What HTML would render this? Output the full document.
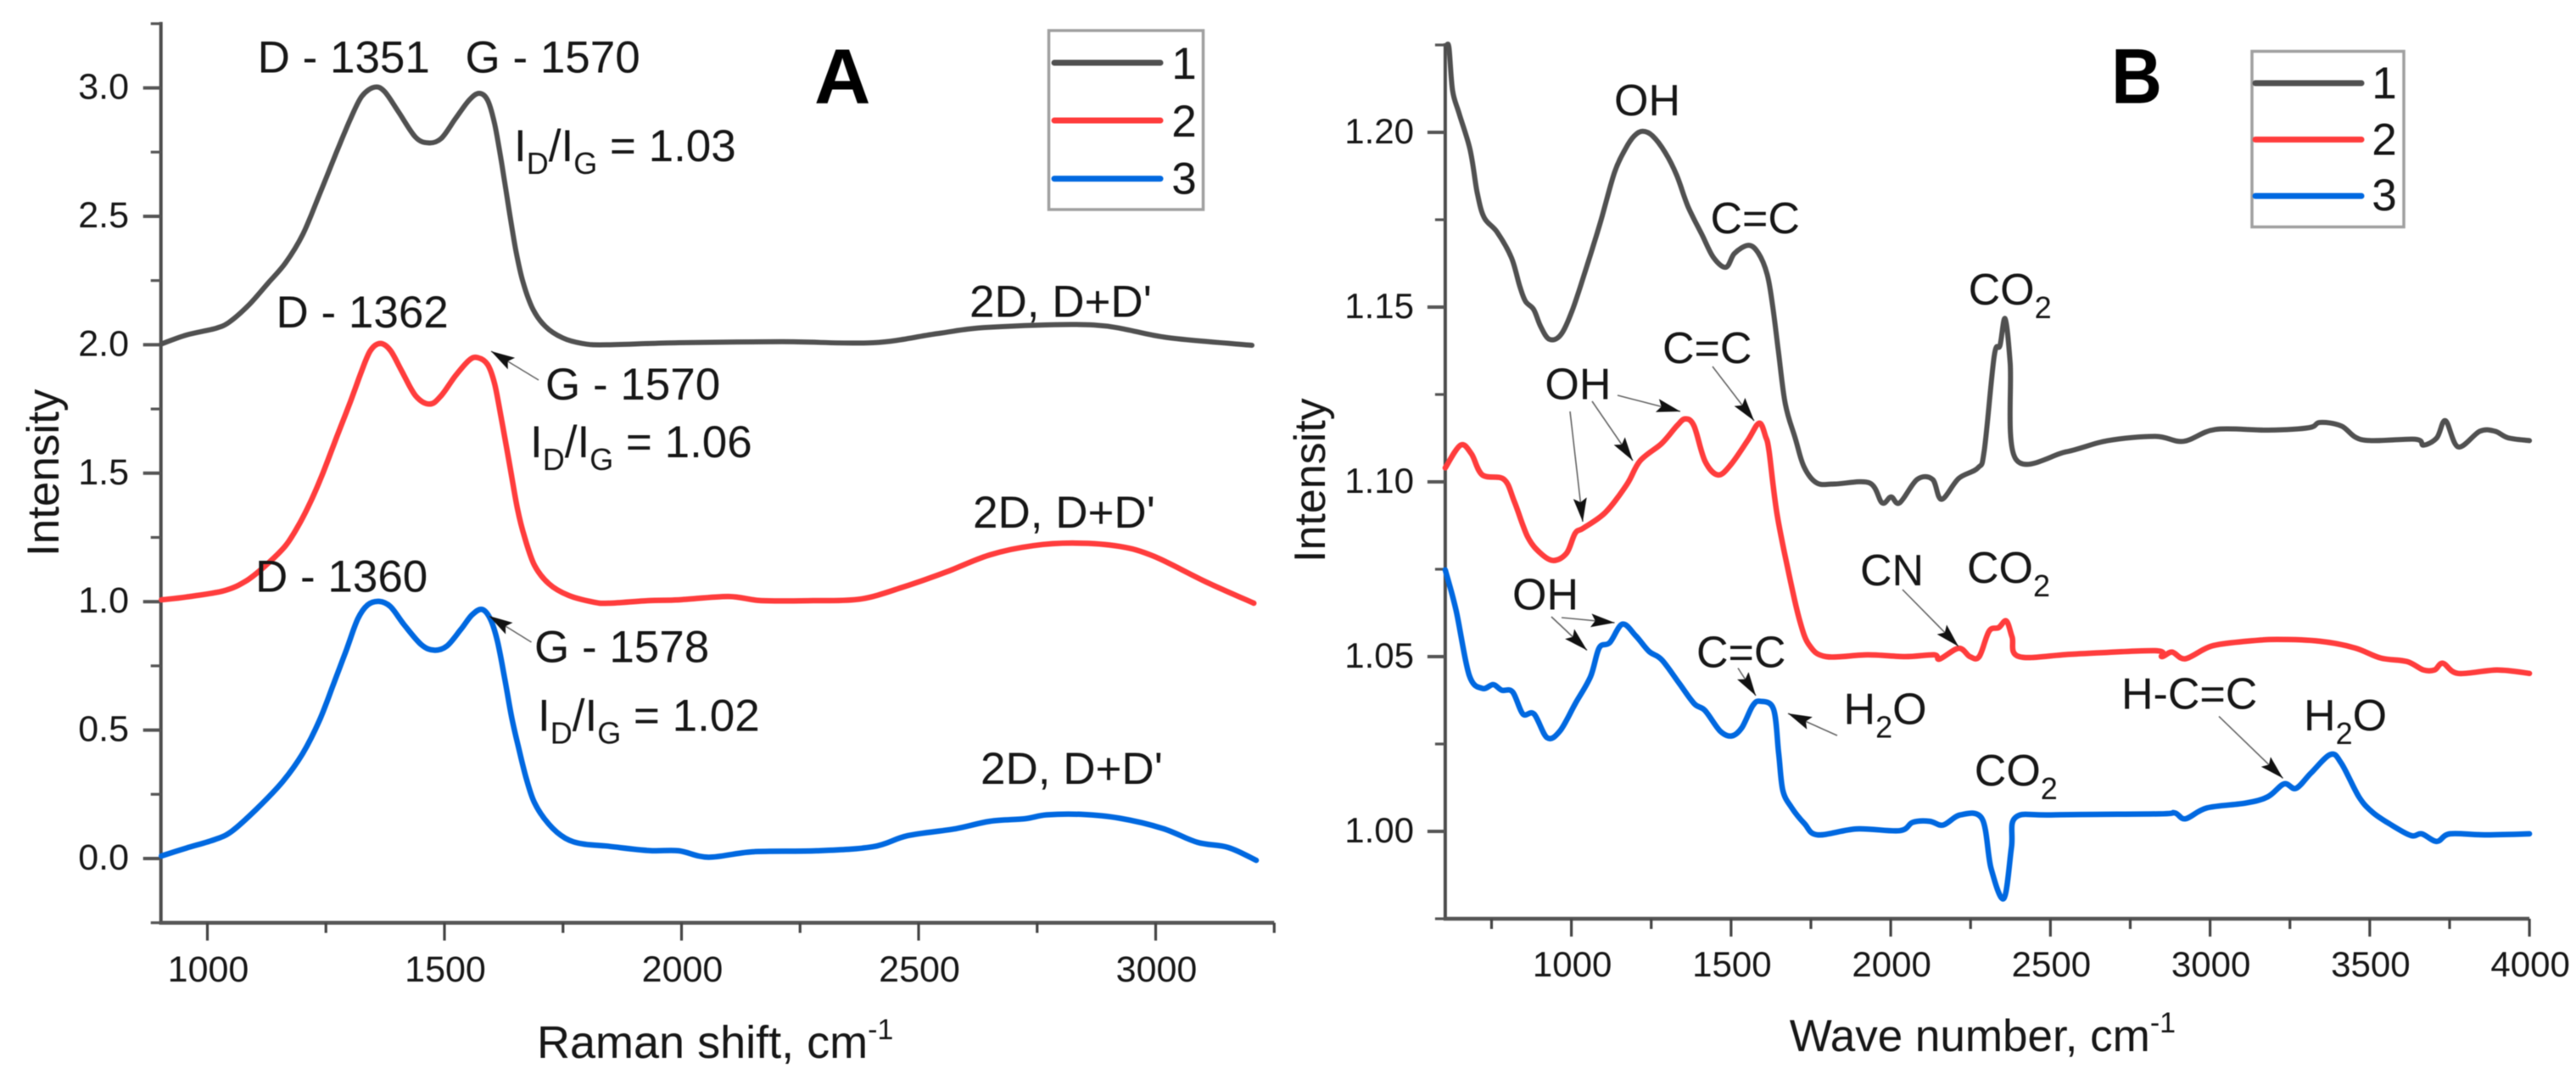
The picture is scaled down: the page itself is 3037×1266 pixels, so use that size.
<!DOCTYPE html>
<html lang="en">
<head>
<meta charset="utf-8">
<title>Raman and IR spectra</title>
<style>
html,body{margin:0;padding:0;background:#fff;width:3037px;height:1266px;overflow:hidden}
svg{display:block;filter:blur(0.6px)}
text{font-family:"Liberation Sans",sans-serif;fill:#161616}
.an{font-size:53px}
.bn{font-size:52px}
</style>
</head>
<body>
<svg id="chart" xmlns="http://www.w3.org/2000/svg" width="3037" height="1266" viewBox="0 0 3037 1266">
<defs>
<marker id="head" markerUnits="userSpaceOnUse" markerWidth="30" markerHeight="18" refX="28" refY="8" orient="auto">
<path d="M0 0 L28 8 L0 16 L5 8 Z" fill="#111"/>
</marker>
</defs>
<rect width="3037" height="1266" fill="#fff"/>

<g id="panelA"></g>
<g id="panelB"></g>

<!-- Panel A static text -->
<text x="960" y="121.6" font-size="92" font-weight="700" style="fill:#000">A</text>
<text x="69" y="656" font-size="53" transform="rotate(-90 69 656)">Intensity</text>
<text x="633" y="1247" font-size="54">Raman shift, cm<tspan font-size="34" dy="-22">-1</tspan></text>

<text class="an" x="303.6" y="85.7">D - 1351</text>
<text class="an" x="548.5" y="85.7">G - 1570</text>
<text class="an" x="606" y="190">I<tspan font-size="36" dy="15">D</tspan><tspan dy="-15">/I</tspan><tspan font-size="36" dy="15">G</tspan><tspan dy="-15"> = 1.03</tspan></text>
<text class="an" x="325.5" y="386.2">D - 1362</text>
<text class="an" x="643" y="471">G - 1570</text>
<text class="an" x="625" y="538.8">I<tspan font-size="36" dy="15">D</tspan><tspan dy="-15">/I</tspan><tspan font-size="36" dy="15">G</tspan><tspan dy="-15"> = 1.06</tspan></text>
<text class="an" x="301" y="697.5">D - 1360</text>
<text class="an" x="630" y="780.5">G - 1578</text>
<text class="an" x="634" y="861.6">I<tspan font-size="36" dy="15">D</tspan><tspan dy="-15">/I</tspan><tspan font-size="36" dy="15">G</tspan><tspan dy="-15"> = 1.02</tspan></text>
<text class="an" x="1143" y="373.5" font-size="54">2D, D+D'</text>
<text class="an" x="1147" y="622">2D, D+D'</text>
<text class="an" x="1156" y="924">2D, D+D'</text>

<g stroke="#666" stroke-width="1.6" fill="none">
<line x1="635" y1="448" x2="579" y2="414" marker-end="url(#head)"/>
<line x1="626.5" y1="757" x2="576.5" y2="726" marker-end="url(#head)"/>
</g>

<!-- Panel A legend -->
<g>
<rect x="1236.5" y="36" width="182" height="211" fill="none" stroke="#a0a0a0" stroke-width="3.5"/>
<line x1="1243" y1="74" x2="1368" y2="74" stroke="#505050" stroke-width="7" stroke-linecap="round"/>
<line x1="1243" y1="142" x2="1368" y2="142" stroke="#ff3c3c" stroke-width="7" stroke-linecap="round"/>
<line x1="1243" y1="210.6" x2="1368" y2="210.6" stroke="#0068e0" stroke-width="7" stroke-linecap="round"/>
<text x="1396" y="93" font-size="53" text-anchor="middle">1</text>
<text x="1396" y="161" font-size="53" text-anchor="middle">2</text>
<text x="1396" y="228.6" font-size="53" text-anchor="middle">3</text>
</g>

<!-- Panel B static text -->
<text x="2489" y="121.6" font-size="92" font-weight="700" textLength="60" lengthAdjust="spacingAndGlyphs" style="fill:#000">B</text>
<text x="1562" y="663" font-size="52" transform="rotate(-90 1562 663)">Intensity</text>
<text x="2109.7" y="1239" font-size="53">Wave number, cm<tspan font-size="34" dy="-22">-1</tspan></text>

<text class="bn" x="1903" y="136">OH</text>
<text class="bn" x="2016.5" y="275">C=C</text>
<text class="bn" x="1960" y="428">C=C</text>
<text class="bn" x="1821.4" y="470.7">OH</text>
<text class="bn" x="1783" y="718.6">OH</text>
<text class="bn" x="2000" y="786.5">C=C</text>
<text class="bn" x="2173.5" y="853.6">H<tspan font-size="36" dy="16">2</tspan><tspan dy="-16">O</tspan></text>
<text class="bn" x="2193" y="690">CN</text>
<text class="bn" x="2320.6" y="359">CO<tspan font-size="36" dy="16">2</tspan></text>
<text class="bn" x="2319" y="687">CO<tspan font-size="36" dy="16">2</tspan></text>
<text class="bn" x="2327.8" y="926">CO<tspan font-size="36" dy="16">2</tspan></text>
<text class="bn" x="2501" y="835.6">H-C=C</text>
<text class="bn" x="2716" y="860.8">H<tspan font-size="36" dy="16">2</tspan><tspan dy="-16">O</tspan></text>

<g stroke="#666" stroke-width="1.6" fill="none">
<line x1="1907" y1="466" x2="1981" y2="485" marker-end="url(#head)"/>
<line x1="1877" y1="473" x2="1925" y2="543" marker-end="url(#head)"/>
<line x1="1851" y1="485" x2="1866" y2="615" marker-end="url(#head)"/>
<line x1="2019" y1="432" x2="2068" y2="496" marker-end="url(#head)"/>
<line x1="2243" y1="695" x2="2309" y2="762" marker-end="url(#head)"/>
<line x1="2166" y1="867" x2="2108" y2="841" marker-end="url(#head)"/>
<line x1="2049" y1="787.5" x2="2070" y2="820" marker-end="url(#head)"/>
<line x1="1841" y1="728" x2="1903.6" y2="734" marker-end="url(#head)"/>
<line x1="1829" y1="727" x2="1871" y2="766.5" marker-end="url(#head)"/>
<line x1="2616" y1="844.4" x2="2691.5" y2="917.4" marker-end="url(#head)"/>
</g>

<!-- Panel B legend -->
<g>
<rect x="2655" y="60.5" width="179" height="207" fill="none" stroke="#a0a0a0" stroke-width="3.5"/>
<line x1="2659" y1="98" x2="2784" y2="98" stroke="#505050" stroke-width="7" stroke-linecap="round"/>
<line x1="2659" y1="164.5" x2="2784" y2="164.5" stroke="#ff3c3c" stroke-width="7" stroke-linecap="round"/>
<line x1="2659" y1="231" x2="2784" y2="231" stroke="#0068e0" stroke-width="7" stroke-linecap="round"/>
<text x="2811" y="116" font-size="53" text-anchor="middle">1</text>
<text x="2811" y="182.4" font-size="53" text-anchor="middle">2</text>
<text x="2811" y="247.8" font-size="53" text-anchor="middle">3</text>
</g>
</svg>

<script>
// ---- Panel A data (Raman shift, intensity) ----
const ramanX1 = [903,956,1016,1046,1087,1129,1165,1201,1236,1272,1302,1326,1353,1374,1403,1439,1466,1493,1523,1552,1573,1591,1606,1621,1636,1651,1666,1687,1713,1749,1791,1840,1994,2212,2404,2541,2650,2870,3024,3203];
const ramanY1 = [2.003,2.038,2.063,2.088,2.154,2.242,2.319,2.429,2.583,2.748,2.88,2.968,3.003,2.985,2.907,2.808,2.786,2.803,2.88,2.952,2.979,2.952,2.858,2.704,2.528,2.363,2.242,2.137,2.071,2.027,2.005,2.0,2.008,2.012,2.008,2.044,2.068,2.077,2.028,1.998];
const ramanX2 = [903,956,1034,1081,1123,1165,1195,1219,1242,1272,1302,1326,1344,1365,1386,1409,1439,1469,1493,1523,1552,1570,1591,1606,1621,1636,1654,1669,1690,1720,1761,1815,1849,1931,1994,2099,2168,2277,2377,2468,2559,2650,2742,2833,2924,2997,3106,3207];
const ramanY2 = [1.007,1.018,1.042,1.08,1.141,1.218,1.306,1.394,1.493,1.637,1.78,1.901,1.978,2.005,1.978,1.901,1.802,1.769,1.802,1.879,1.94,1.95,1.923,1.846,1.703,1.549,1.361,1.251,1.141,1.07,1.025,0.998,0.994,1.004,1.007,1.02,1.004,1.004,1.01,1.057,1.116,1.182,1.218,1.228,1.215,1.176,1.077,0.994];
const ramanX3 = [903,956,1016,1052,1105,1159,1201,1236,1266,1293,1317,1338,1362,1386,1415,1451,1478,1505,1535,1558,1579,1597,1612,1627,1642,1657,1672,1690,1720,1755,1791,1840,1931,1994,2057,2149,2285,2404,2477,2578,2650,2724,2770,2843,2924,3015,3088,3153,3212];
const ramanY3 = [0.01,0.041,0.074,0.107,0.195,0.3,0.409,0.536,0.679,0.811,0.932,0.987,1.001,0.981,0.91,0.833,0.811,0.827,0.893,0.948,0.97,0.932,0.844,0.701,0.547,0.426,0.316,0.217,0.134,0.079,0.057,0.049,0.031,0.03,0.005,0.026,0.03,0.046,0.089,0.116,0.145,0.155,0.17,0.172,0.157,0.117,0.063,0.043,-0.007];
const ramanXMajor = [1000,1500,2000,2500,3000];
const ramanXMinor = [1250,1750,2250,2750,3250];
const ramanYMajor = [0,0.5,1,1.5,2,2.5,3];
const ramanYMinor = [-0.25,0.25,0.75,1.25,1.75,2.25,2.75,3.25];
const ramanYLabels = ['0.0','0.5','1.0','1.5','2.0','2.5','3.0'];

// ---- Panel B data (wave number, intensity) ----
const irX1 = [610,617,628,648,683,705,727,767,812,838,856,882,904,931,966,1002,1046,1090,1135,1170,1197,1223,1254,1294,1330,1365,1409,1445,1484,1511,1555,1586,1613,1630,1648,1670,1701,1728,1768,1825,1933,1973,2001,2028,2083,2131,2159,2213,2273,2293,2324,2342,2358,2374,2391,2549,2679,2829,2917,3017,3181,3310,3344,3411,3479,3642,3668,3710,3737,3777,3845,3892,3933,4000];
const irY1 = [1.225,1.224,1.212,1.2055,1.195,1.1828,1.1756,1.1715,1.1642,1.1561,1.1517,1.1493,1.1444,1.1408,1.142,1.1489,1.161,1.174,1.1885,1.1954,1.199,1.2003,1.199,1.1942,1.1877,1.1788,1.1707,1.1642,1.1614,1.1654,1.1677,1.1654,1.1594,1.1505,1.1375,1.1222,1.1125,1.1044,1.0997,1.0994,1.0997,1.094,1.0957,1.094,1.1007,1.1007,1.095,1.101,1.104,1.109,1.136,1.139,1.1467,1.134,1.1066,1.1086,1.1118,1.113,1.1116,1.115,1.1148,1.1155,1.117,1.116,1.112,1.1122,1.1105,1.1126,1.1175,1.11,1.1145,1.1145,1.1126,1.1118];
const irX2 = [605,653,687,721,789,822,863,903,944,985,1012,1038,1107,1174,1215,1283,1330,1357,1384,1418,1459,1500,1553,1588,1608,1619,1643,1678,1713,1744,1797,1928,2045,2136,2153,2213,2248,2277,2308,2338,2362,2380,2402,2570,2828,2849,2881,2923,3004,3113,3209,3344,3453,3534,3616,3668,3703,3729,3777,3899,4000];
const irY2 = [1.104,1.1105,1.108,1.102,1.1007,1.0942,1.0843,1.0796,1.0775,1.0796,1.0853,1.0868,1.0913,1.0993,1.106,1.111,1.116,1.118,1.116,1.106,1.102,1.105,1.112,1.1168,1.113,1.1087,1.0913,1.075,1.061,1.0534,1.05,1.0505,1.05,1.0505,1.0493,1.0524,1.05,1.05,1.0573,1.0583,1.0602,1.0556,1.05,1.0507,1.0517,1.05,1.0513,1.0494,1.053,1.0544,1.0549,1.0544,1.0525,1.0496,1.0486,1.0462,1.0462,1.0481,1.0452,1.0462,1.0452];
const irX3 = [605,639,680,721,755,782,816,848,883,924,964,1012,1060,1087,1120,1160,1202,1243,1283,1338,1385,1418,1466,1502,1534,1568,1592,1633,1649,1662,1689,1730,1771,1893,2028,2069,2122,2164,2218,2286,2314,2354,2378,2391,2502,2840,2889,2923,2990,3112,3181,3232,3269,3316,3377,3411,3466,3507,3561,3629,3663,3710,3751,3859,4000];
const irY3 = [1.0748,1.0632,1.0447,1.0409,1.042,1.0404,1.0399,1.0336,1.0336,1.0268,1.0287,1.0365,1.0443,1.0525,1.054,1.0593,1.0559,1.0515,1.0491,1.0423,1.0365,1.0346,1.0287,1.0273,1.0297,1.036,1.0372,1.035,1.0225,1.0118,1.0069,1.0022,0.999,1.0007,1.0002,1.0026,1.0029,1.0018,1.0047,1.0036,0.9895,0.9808,0.9954,1.004,1.0047,1.005,1.0053,1.0036,1.0067,1.0081,1.0099,1.0136,1.0123,1.0167,1.022,1.0195,1.0099,1.0056,1.0022,0.9988,0.9993,0.9971,0.9993,0.999,0.9993];
const irXMajor = [1000,1500,2000,2500,3000,3500,4000];
const irXMinor = [750,1250,1750,2250,2750,3250,3750];
const irYMajor = [1,1.05,1.1,1.15,1.2];
const irYMinor = [0.975,1.025,1.075,1.125,1.175,1.225];
const irYLabels = ['1.00','1.05','1.10','1.15','1.20'];

// ---- Axis functions ----
const xA = v => 244.5 + (v - 1000) * 0.559;
const yA = v => 1012 - 302.8 * v;
const xB = v => 1852.6 + (v - 1000) * 0.3765;
const yB = v => 980 - (v - 1) * 4120;

const NS = 'http://www.w3.org/2000/svg';
function make(tag, parent, attrs) {
  const el = document.createElementNS(NS, tag);
  for (const k in attrs) el.setAttribute(k, attrs[k]);
  parent.appendChild(el);
  return el;
}
function smoothPath(xs, ys, fx, fy) {
  const p = xs.map((x, i) => [fx(x), fy(ys[i])]);
  let d = 'M' + p[0][0].toFixed(1) + ' ' + p[0][1].toFixed(1);
  for (let i = 0; i < p.length - 1; i++) {
    const a = p[Math.max(i - 1, 0)], b = p[i], c = p[i + 1], e = p[Math.min(i + 2, p.length - 1)];
    const k = 1 / 6;
    d += ' C' + (b[0] + (c[0] - a[0]) * k).toFixed(1) + ' ' + (b[1] + (c[1] - a[1]) * k).toFixed(1) + ' ' +
      (c[0] - (e[0] - b[0]) * k).toFixed(1) + ' ' + (c[1] - (e[1] - b[1]) * k).toFixed(1) + ' ' +
      c[0].toFixed(1) + ' ' + c[1].toFixed(1);
  }
  return d;
}
function drawAxes(g, prefix, fx, fy, left, right, top, bottom, xMajor, xMinor, yMajor, yMinor, yLabels, xBase, yLabelRight, fs) {
  const yAxis = make('line', g, {x1: left, y1: top - 2, x2: left, y2: bottom + 2, stroke: '#4c4c4c', 'stroke-width': 4});
  
  
  const xAxis = make('line', g, {x1: left - 2, y1: bottom, x2: right, y2: bottom, stroke: '#555', 'stroke-width': 4.5});
  
  
  xMajor.forEach(v => {
    const t = make('line', g, {x1: fx(v), y1: bottom, x2: fx(v), y2: bottom + 21, stroke: '#444', 'stroke-width': 3.2});
    
    
    const l = make('text', g, {x: fx(v) + 1, y: xBase, 'font-size': fs, 'text-anchor': 'middle'});
    l.textContent = String(v);
    
    
  });
  xMinor.forEach(v => {
    const t = make('line', g, {x1: fx(v), y1: bottom, x2: fx(v), y2: bottom + 12, stroke: '#444', 'stroke-width': 3.2});
    
    
  });
  yMajor.forEach((v, i) => {
    const t = make('line', g, {x1: left - 21, y1: fy(v), x2: left, y2: fy(v), stroke: '#555', 'stroke-width': 4});
    
    
    const l = make('text', g, {x: yLabelRight, y: fy(v) + 13, 'font-size': fs, 'text-anchor': 'end'});
    l.textContent = yLabels[i];
    
    
  });
  yMinor.forEach(v => {
    const t = make('line', g, {x1: left - 12, y1: fy(v), x2: left, y2: fy(v), stroke: '#555', 'stroke-width': 3.2});
    
    
  });
}
function drawSeries(g, name, xs, ys, fx, fy, colour, width) {
  const p = make('path', g, {d: smoothPath(xs, ys, fx, fy), fill: 'none', stroke: colour, 'stroke-width': width, 'stroke-linejoin': 'round', 'stroke-linecap': 'round'});
  
  
}

const gA = document.getElementById('panelA');
const gB = document.getElementById('panelB');

drawAxes(gA, 'panel-a', xA, yA, xA(902), xA(3250), yA(3.25), yA(-0.25), ramanXMajor, ramanXMinor, ramanYMajor, ramanYMinor, ramanYLabels, 1157, 152, 43);
drawAxes(gB, 'panel-b', xB, yB, xB(605), xB(4000), yB(1.225), yB(0.975), irXMajor, irXMinor, irYMajor, irYMinor, irYLabels, 1151, 1667, 42);

drawSeries(gA, 'raman-series-1', ramanX1, ramanY1, xA, yA, '#505050', 6);
drawSeries(gA, 'raman-series-2', ramanX2, ramanY2, xA, yA, '#ff3c3c', 6.5);
drawSeries(gA, 'raman-series-3', ramanX3, ramanY3, xA, yA, '#0068e0', 6.5);
drawSeries(gB, 'ir-series-1', irX1, irY1, xB, yB, '#505050', 6);
drawSeries(gB, 'ir-series-2', irX2, irY2, xB, yB, '#ff3c3c', 6.5);
drawSeries(gB, 'ir-series-3', irX3, irY3, xB, yB, '#0068e0', 6.5);
</script>
</body>
</html>
